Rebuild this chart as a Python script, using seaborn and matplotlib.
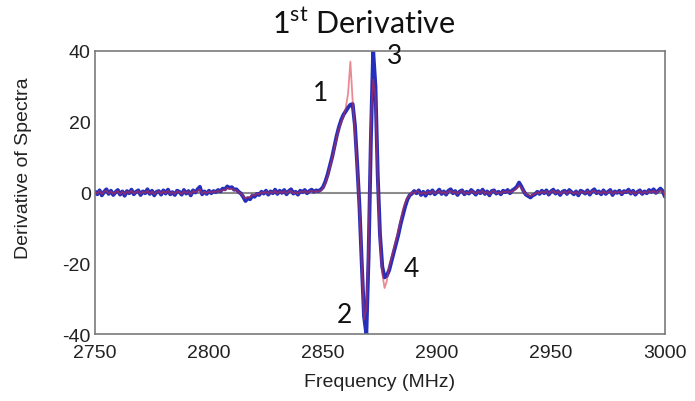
import numpy as np
import pandas as pd
import matplotlib
matplotlib.use("Agg")
import matplotlib.pyplot as plt
import seaborn as sns

# ---- data ----
freq_low = list(range(2750, 2849))
freq_peak = list(range(2849, 2893))
freq_high = list(range(2893, 3001))
frequency = freq_low + freq_peak + freq_high

blue_low = [0.3, -0.5, 0.6, -0.8, 0.2, 0.9, -0.4, 0.5, -0.7, 0.1,
            0.7, -0.6, 0.3, -0.9, 0.4, -0.2, 0.8, -0.5, 0.2, 0.6,
            -0.7, 0.3, -0.2, 0.9, -0.4, 0.5, -0.8, 0.2, 0.4, -0.6,
            0.6, -0.3, 0.8, -0.5, 0.1, -0.7, 0.5, 0.2, -0.6, 0.7,
            -0.3, 0.4, -0.8, 0.6, 0.0, 0.9, 1.6, -0.5, 0.3, -0.4,
            0.5, -0.2, 0.4, 0.1, 0.7, 0.3, 1.1, 0.9, 1.7, 1.3,
            1.5, 0.8, 0.9, 0.2, -0.3, -1.2, -2.4, -1.6, -1.9, -0.9,
            -1.2, -0.4, -0.7, 0.2, -0.3, 0.5, -0.6, 0.3, -0.2, 0.8,
            -0.4, 0.5, -0.1, 0.7, -0.5, 0.4, 0.9, -0.3, 0.2, -0.6,
            0.5, 0.1, 0.7, -0.2, 0.4, 0.8, 0.2, 0.6, 0.4]
blue_peak = [0.8, 1.5, 3, 5, 7.5, 10, 13, 16, 18.5, 20.5,
             22, 23, 24, 24.8, 25, 19, 8, -4, -20, -35,
             -40, -18, 15, 40, 30, 5, -12, -21, -24, -23.5,
             -22, -19.5, -17, -14.5, -12, -9, -6.5, -4, -2, -0.8,
             -0.3, 0.4, -0.2, 0.6]
blue_high = [-0.7, 0.2, -0.9, 0.4, -0.3, 0.6, -0.5, 0.1, 0.8, -0.4,
             0.3, -0.6, 0.5, 0.9, -0.2, 0.4, -0.7, 0.3, 0.6, -0.5,
             0.2, -0.3, 0.7, 0.1, -0.6, 0.5, -0.2, 0.8, -0.4, 0.3,
             -0.8, 0.4, 0.6, -0.3, 0.2, -0.5, 0.5, 0.1, 0.7, -0.2,
             0.6, 1.0, 1.6, 2.8, 1.7, 0.4, -0.6, -1.0, -1.4, -0.8,
             -0.5, 0.2, -0.4, 0.5, -0.2, 0.6, -0.6, 0.3, 0.8, -0.3,
             0.4, -0.7, 0.2, 0.5, -0.4, 0.7, 0.1, -0.5, 0.3, -0.8,
             0.5, 0.2, -0.3, 0.6, -0.6, 0.4, 0.9, -0.2, 0.3, -0.5,
             0.6, -0.4, 0.2, 0.7, -0.7, 0.3, -0.1, 0.5, -0.5, 0.4,
             0.1, 0.8, -0.3, 0.5, -0.6, 0.2, 0.6, -0.4, 0.3, -0.2,
             0.7, 0.2, 0.9, -0.1, 0.5, 1.1, 0.4, -1.2]

red_low = [0.1, -0.3, 0.4, -0.5, 0.2, 0.5, -0.2, 0.3, -0.4, 0.1,
           0.4, -0.4, 0.2, -0.5, 0.3, -0.1, 0.5, -0.3, 0.1, 0.4,
           -0.4, 0.2, -0.1, 0.5, -0.3, 0.3, -0.5, 0.1, 0.3, -0.4,
           0.4, -0.2, 0.5, -0.3, 0.1, -0.4, 0.3, 0.1, -0.4, 0.4,
           -0.2, 0.3, -0.5, 0.4, 0.0, 0.5, 0.9, -0.3, 0.2, -0.2,
           0.3, -0.1, 0.3, 0.1, 0.5, 0.3, 0.8, 0.7, 1.2, 1.0,
           1.1, 0.6, 0.6, 0.1, -0.3, -0.9, -1.7, -1.3, -1.4, -0.7,
           -0.8, -0.3, -0.5, 0.1, -0.2, 0.3, -0.4, 0.2, -0.1, 0.5,
           -0.3, 0.3, -0.1, 0.4, -0.3, 0.3, 0.5, -0.2, 0.1, -0.4,
           0.3, 0.1, 0.4, -0.1, 0.3, 0.5, 0.1, 0.4, 0.3]
red_peak = [0.5, 1.2, 2.5, 4.5, 7, 9.5, 12.5, 15.5, 18, 20,
            21.5, 24, 28, 37, 26, 17, 7, -5, -20, -36,
            -33, -14, 20, 32, 27, 3, -14, -23, -27, -25,
            -21, -18.5, -16, -13.5, -11, -8, -5, -3, -1.5, -0.8,
            0.2, -0.3, 0.4, 0.1]
red_high = [-0.4, 0.1, -0.5, 0.3, -0.2, 0.4, -0.3, 0.1, 0.5, -0.2,
            0.2, -0.4, 0.3, 0.5, -0.1, 0.3, -0.4, 0.2, 0.4, -0.3,
            0.1, -0.2, 0.4, 0.1, -0.4, 0.3, -0.1, 0.5, -0.3, 0.2,
            -0.5, 0.3, 0.4, -0.2, 0.1, -0.3, 0.3, 0.1, 0.4, -0.1,
            0.4, 0.7, 1.2, 2.0, 1.3, 0.3, -0.4, -0.7, -1.0, -0.6,
            -0.3, 0.1, -0.3, 0.3, -0.1, 0.4, -0.4, 0.2, 0.5, -0.2,
            0.3, -0.4, 0.1, 0.3, -0.3, 0.4, 0.1, -0.3, 0.2, -0.5,
            0.3, 0.1, -0.2, 0.4, -0.4, 0.3, 0.5, -0.1, 0.2, -0.3,
            0.4, -0.3, 0.1, 0.4, -0.4, 0.2, -0.1, 0.3, -0.3, 0.3,
            0.1, 0.5, -0.2, 0.3, -0.4, 0.1, 0.4, -0.3, 0.2, -0.1,
            0.4, 0.1, 0.5, -0.1, 0.3, 0.6, 0.2, -0.6]

measured = blue_low + blue_peak + blue_high
fitted = red_low + red_peak + red_high

x_ticks = [2750, 2800, 2850, 2900, 2950, 3000]
y_ticks = [-40, -20, 0, 20, 40]

peak_labels = ["1", "2", "3", "4"]
peak_label_x = [2848.7, 2859.6, 2881.6, 2888.6]
peak_label_y = [28.4, -34.6, 38.6, -21.5]

df = pd.DataFrame({"Frequency": frequency, "measured": measured, "fitted": fitted})

# ---- style ----
sns.set_style("white")
plt.rcParams["font.family"] = ["Liberation Sans", "DejaVu Sans"]
plt.rcParams["mathtext.fontset"] = "custom"
plt.rcParams["mathtext.rm"] = "Lato"
plt.rcParams["axes.unicode_minus"] = False

fig = plt.figure(figsize=(6.95, 4.02), dpi=100)
ax = fig.add_axes([95 / 695, 1 - 335 / 402, 570 / 695, 283 / 402])

ax.axhline(0, color="#8c8c8c", lw=1.5, zorder=1)
sns.lineplot(data=df, x="Frequency", y="measured", ax=ax, color="#2430bb",
             lw=2.8, zorder=2)
sns.lineplot(data=df, x="Frequency", y="fitted", ax=ax, color="#d82a3c",
             lw=1.3, alpha=0.55, zorder=3)

ax.set_xlim(2750, 3000)
ax.set_ylim(-40, 40)
ax.set_xticks(x_ticks)
ax.set_yticks(y_ticks)
ax.tick_params(direction="in", length=5, width=1, colors="#555555",
               labelsize=14, labelcolor="#222222", pad=3)
ax.tick_params(axis="x", pad=7)
for s in ax.spines.values():
    s.set_color("#7a7a7a")
    s.set_linewidth(1.2)
ax.set_xlabel("")
ax.set_ylabel("")

fig.text(380 / 695, 1 - 383 / 402, "Frequency (MHz)", ha="center", va="center",
         fontsize=14, color="#222222")
fig.text(24 / 695, 1 - 168 / 402, "Derivative of Spectra", ha="center",
         va="center", rotation=90, fontsize=14, color="#222222")

fig.text(364 / 695, 1 - 24 / 402, r"1$^{\mathrm{st}}$ Derivative", ha="center",
         va="center", fontsize=22, family="Lato", color="#111111")

for lab, lx, ly in zip(peak_labels, peak_label_x, peak_label_y):
    ax.text(lx, ly, lab, ha="center", va="center", fontsize=19,
            family="Lato", color="#111111")

fig.savefig("out.png", dpi=100)
